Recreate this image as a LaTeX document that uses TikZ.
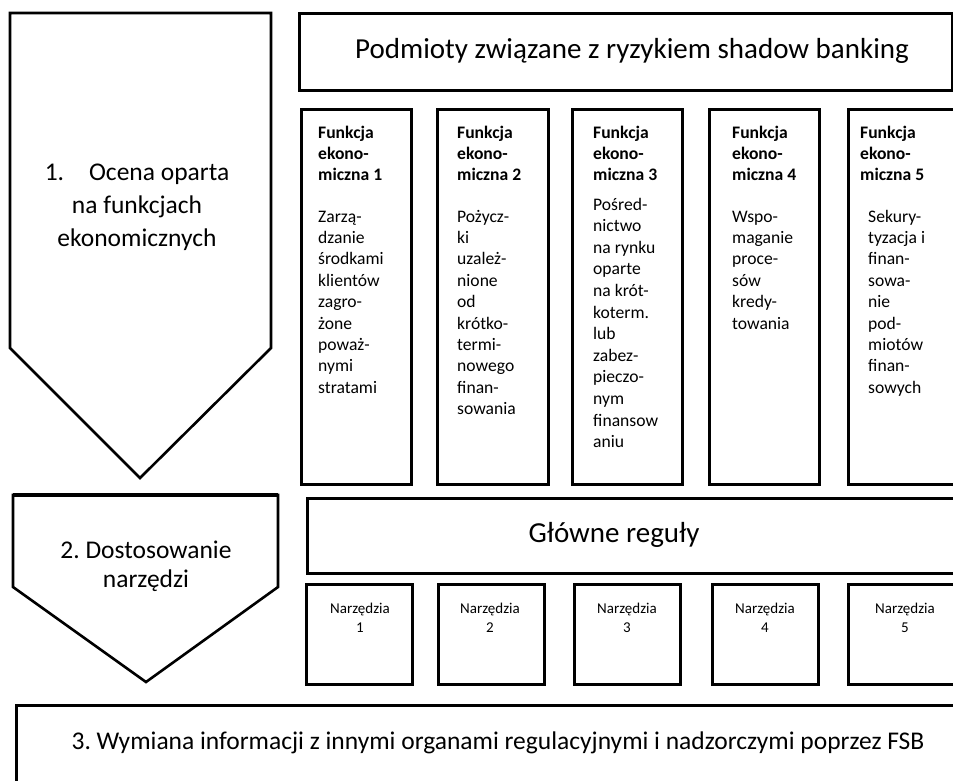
\documentclass[tikz,border=0pt]{standalone}
\usepackage{fontspec}
\setmainfont{Carlito}
\frenchspacing
\begin{document}
\begin{tikzpicture}[x=1pt,y=-1pt,
  frame/.style={draw=black, line width=2.6pt, fill=white, inner sep=0pt, anchor=north west},
  fnbox/.style={frame, line width=3.2pt, minimum width=110pt, minimum height=375pt},
  toolbox/.style={frame, line width=3.2pt, minimum width=106pt, minimum height=100pt},
  stage/.style={draw=black, line width=2.6pt, fill=white, line join=miter},
  bigtext/.style={inner sep=0pt, font=\fontsize{29}{35}\selectfont},
  stagetext/.style={inner sep=0pt, align=center},
  fntext/.style={inner sep=0pt, anchor=base west, font=\fontsize{17.6}{21.4}\selectfont},
  tooltext/.style={inner sep=0pt, anchor=base, font=\fontsize{15}{19.5}\selectfont}
]
\useasboundingbox (0,0) rectangle (953,780);
\fill[white] (0,0) rectangle (953,780);
\clip (0,0) rectangle (953,780);

% stage 1 arrow
\draw[stage] (10,13) -- (271,13) -- (271,348) -- (140,478) -- (10,348) -- cycle;
\node[stagetext, font=\fontsize{25.5}{33}\selectfont] (s1) at (137,207)
  {1.\hspace{25pt}Ocena oparta\\na funkcjach\\ekonomicznych};

% stage 2 arrow
\draw[stage] (13,495) -- (278,495) -- (278,587) -- (146,682) -- (13,587) -- cycle;
\draw[line width=3.6pt] (13,495) -- (278,495);
\node[stagetext, font=\fontsize{25.5}{29}\selectfont] (s2) at (146,566)
  {2. Dostosowanie\\narzędzi};

% top box
\node[frame, minimum width=653pt, minimum height=77pt] (top) at (298,12) {};
\node[bigtext] (toptext) at (632,51) {Podmioty związane z ryzykiem shadow banking};

% function boxes
\node[fnbox] (f1) at (300,108) {};
\node[fnbox, minimum width=111pt] (f2) at (436,108) {};
\node[fnbox] (f3) at (571,108) {};
\node[fnbox] (f4) at (708,108) {};
\node[fnbox, minimum width=160pt] (f5) at (847,108) {};

\node[fntext] (h1) at (318,138) {\parbox[t]{90pt}{\raggedright\bfseries Funkcja\\ekono-\\miczna 1}};
\node[fntext] (h2) at (457,138) {\parbox[t]{90pt}{\raggedright\bfseries Funkcja\\ekono-\\miczna 2}};
\node[fntext] (h3) at (593,138) {\parbox[t]{90pt}{\raggedright\bfseries Funkcja\\ekono-\\miczna 3}};
\node[fntext] (h4) at (732,138) {\parbox[t]{90pt}{\raggedright\bfseries Funkcja\\ekono-\\miczna 4}};
\node[fntext] (h5) at (860,138) {\parbox[t]{90pt}{\raggedright\bfseries Funkcja\\ekono-\\miczna 5}};

\node[fntext] (b1) at (318,222) {\parbox[t]{90pt}{\raggedright Zarzą-\\dzanie\\środkami\\klientów\\zagro-\\żone\\poważ-\\nymi\\stratami}};
\node[fntext] (b2) at (457,222) {\parbox[t]{90pt}{\raggedright Pożycz-\\ki\\uzależ-\\nione\\od\\krótko-\\termi-\\nowego\\finan-\\sowania}};
\node[fntext, font=\fontsize{17.6}{21.6}\selectfont] (b3) at (593,210) {\parbox[t]{90pt}{\raggedright Pośred-\\nictwo\\na rynku\\oparte\\na krót-\\koterm.\\lub\\zabez-\\pieczo-\\nym\\finansow\\aniu}};
\node[fntext] (b4) at (732,222) {\parbox[t]{90pt}{\raggedright Wspo-\\maganie\\proce-\\sów\\kredy-\\towania}};
\node[fntext] (b5) at (868,222) {\parbox[t]{90pt}{\raggedright Sekury-\\tyzacja i\\finan-\\sowa-\\nie\\pod-\\miotów\\finan-\\sowych}};

% main rules
\node[frame, minimum width=700pt, minimum height=75pt] (rules) at (306,497) {};
\node[bigtext] (rulestext) at (614,535) {Główne reguły};

% tool boxes
\node[toolbox] (n1) at (305,583) {};
\node[toolbox] (n2) at (437,583) {};
\node[toolbox] (n3) at (573,583) {};
\node[toolbox] (n4) at (711,583) {};
\node[toolbox, minimum width=160pt] (n5) at (847,583) {};
\node[tooltext] (nt1) at (360,613) {\parbox[t]{100pt}{\centering Narzędzia\\1}};
\node[tooltext] (nt2) at (490,613) {\parbox[t]{100pt}{\centering Narzędzia\\2}};
\node[tooltext] (nt3) at (627,613) {\parbox[t]{100pt}{\centering Narzędzia\\3}};
\node[tooltext] (nt4) at (765,613) {\parbox[t]{100pt}{\centering Narzędzia\\4}};
\node[tooltext] (nt5) at (905,613) {\parbox[t]{100pt}{\centering Narzędzia\\5}};

% bottom box
\node[frame, line width=3pt, minimum width=1000pt, minimum height=150pt] (fsb) at (15,704) {};
\node[inner sep=0pt, font=\fontsize{25.5}{30}\selectfont] (fsbtext) at (498,743)
  {3. Wymiana informacji z innymi organami regulacyjnymi i nadzorczymi poprzez FSB};
\end{tikzpicture}
\end{document}
